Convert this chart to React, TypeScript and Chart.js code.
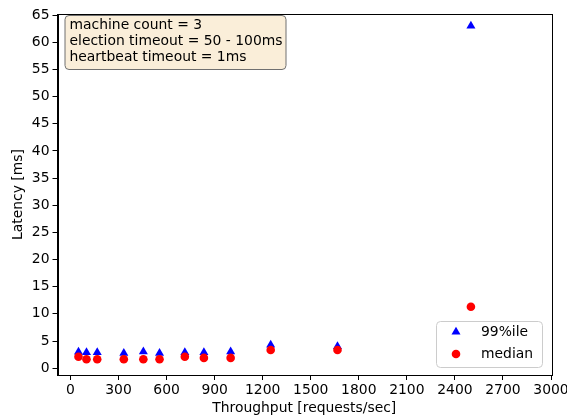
import React, { useEffect, useRef } from "react";
import { Chart, registerables } from "chart.js";

Chart.register(...registerables);

const throughput = [50, 100, 167, 333, 455, 556, 714, 833, 1000, 1250, 1667, 2500];
const p99 = [3.0, 2.9, 2.9, 2.75, 3.05, 2.75, 2.9, 2.9, 3.05, 4.3, 4.0, 63.0];
const median = [2.1, 1.65, 1.65, 1.65, 1.65, 1.65, 2.1, 1.9, 1.9, 3.35, 3.35, 11.3];
const xTicks = [0, 300, 600, 900, 1200, 1500, 1800, 2100, 2400, 2700, 3000];
const yTicks = [0, 5, 10, 15, 20, 25, 30, 35, 40, 45, 50, 55, 60, 65];
const infoLines = ["machine count = 3", "election timeout = 50 - 100ms", "heartbeat timeout = 1ms"];
const legendLabels = ["99%ile", "median"];

const FONT = "'DejaVu Sans', sans-serif";
const FS = 13.9;

const framePlugin = {
  id: "frame",
  afterDatasetsDraw(chart: any) {
    const { ctx, chartArea: a } = chart;
    ctx.save();
    ctx.strokeStyle = "#000";
    ctx.lineWidth = 1;
    ctx.strokeRect(Math.round(a.left) + 0.5, Math.round(a.top) + 0.5, Math.round(a.right - a.left), Math.round(a.bottom - a.top));

    ctx.font = `${FS}px ${FONT}`;
    const bx = a.left + 7, by = a.top + 1, bw = 221, bh = 54;
    ctx.beginPath();
    ctx.roundRect(bx + 0.5, by + 0.5, bw, bh, 4);
    ctx.fillStyle = "rgba(245,222,179,0.5)";
    ctx.fill();
    ctx.strokeStyle = "#707070";
    ctx.stroke();
    ctx.fillStyle = "#000";
    ctx.textBaseline = "middle";
    ctx.textAlign = "left";
    infoLines.forEach((t, i) => ctx.fillText(t, bx + 5, by + 10 + i * 16));

    const lw = 106, lh = 46;
    const lx = a.right - 9 - lw, ly = a.bottom - 8 - lh;
    ctx.beginPath();
    ctx.roundRect(lx + 0.5, ly + 0.5, lw, lh, 4);
    ctx.fillStyle = "rgba(255,255,255,0.8)";
    ctx.fill();
    ctx.strokeStyle = "#cccccc";
    ctx.stroke();
    const ds = chart.data.datasets;
    legendLabels.forEach((lab, i) => {
      const cy = ly + 11 + i * 22;
      const mx = lx + 20;
      const d = ds[i];
      ctx.fillStyle = d.backgroundColor;
      if (d.pointStyle === "triangle") {
        const r = d.pointRadius;
        const e = (3 * r) / Math.sqrt(3);
        const h = (e * Math.sqrt(3)) / 2;
        ctx.beginPath();
        ctx.moveTo(mx - e / 2, cy + h / 3);
        ctx.lineTo(mx + e / 2, cy + h / 3);
        ctx.lineTo(mx, cy - (2 * h) / 3);
        ctx.closePath();
        ctx.fill();
      } else {
        ctx.beginPath();
        ctx.arc(mx, cy, d.pointRadius, 0, Math.PI * 2);
        ctx.fill();
      }
      ctx.fillStyle = "#000";
      ctx.fillText(lab, lx + 45, cy);
    });
    ctx.restore();
  },
};

export default function App() {
  const ref = useRef<HTMLCanvasElement>(null);
  useEffect(() => {
    const chart = new Chart(ref.current!, {
      type: "scatter",
      data: {
        datasets: [
          {
            label: legendLabels[0],
            data: throughput.map((x, i) => ({ x, y: p99[i] })),
            pointStyle: "triangle",
            pointRadius: 5.2,
            backgroundColor: "#0000ff",
            borderColor: "#0000ff",
            borderWidth: 0,
            order: 2,
          },
          {
            label: legendLabels[1],
            data: throughput.map((x, i) => ({ x, y: median[i] })),
            pointStyle: "circle",
            pointRadius: 4.3,
            backgroundColor: "#ff0000",
            borderColor: "#ff0000",
            borderWidth: 0,
            order: 1,
          },
        ],
      },
      options: {
        animation: false,
        responsive: false,
        devicePixelRatio: 1,
        layout: { padding: { left: 0, right: 16, top: 14, bottom: 0 } },
        plugins: { legend: { display: false }, tooltip: { enabled: false } },
        scales: {
          x: {
            type: "linear",
            min: -81,
            max: 3000,
            afterBuildTicks: (s: any) => {
              s.ticks = xTicks.map((v) => ({ value: v }));
            },
            afterFit: (s: any) => {
              s.height = 42;
              s.paddingLeft = 0;
              s.paddingRight = 0;
            },
            grid: { drawOnChartArea: false, drawTicks: true, tickLength: 5, color: "#000" },
            border: { display: true, color: "#000" },
            ticks: {
              color: "#000",
              font: { family: FONT, size: FS },
              padding: 2,
              maxRotation: 0,
              autoSkip: false,
              callback: (v: any) => String(v),
            },
            title: {
              display: true,
              text: "Throughput [requests/sec]",
              color: "#000",
              font: { family: FONT, size: FS },
              padding: { top: 0, bottom: 0 },
            },
          },
          y: {
            type: "linear",
            min: -1.25,
            max: 65.2,
            afterBuildTicks: (s: any) => {
              s.ticks = yTicks.map((v) => ({ value: v }));
            },
            afterFit: (s: any) => {
              s.width = 57.5;
              s.paddingTop = 0;
              s.paddingBottom = 0;
            },
            grid: { drawOnChartArea: false, drawTicks: true, tickLength: 5, color: "#000" },
            border: { display: true, color: "#000" },
            ticks: { color: "#000", font: { family: FONT, size: FS }, padding: 3, autoSkip: false, callback: (v: any) => String(v) },
            title: {
              display: true,
              text: "Latency [ms]",
              color: "#000",
              font: { family: FONT, size: FS },
              padding: { top: 10, bottom: 0 },
            },
          },
        },
      },
      plugins: [framePlugin],
    } as any);
    return () => chart.destroy();
  }, []);
  return (
    <div style={{ position: "fixed", left: 0, top: 0, width: 567, height: 417, background: "#fff" }}>
      <canvas ref={ref} width={567} height={417} style={{ width: 567, height: 417, display: "block" }} />
    </div>
  );
}
